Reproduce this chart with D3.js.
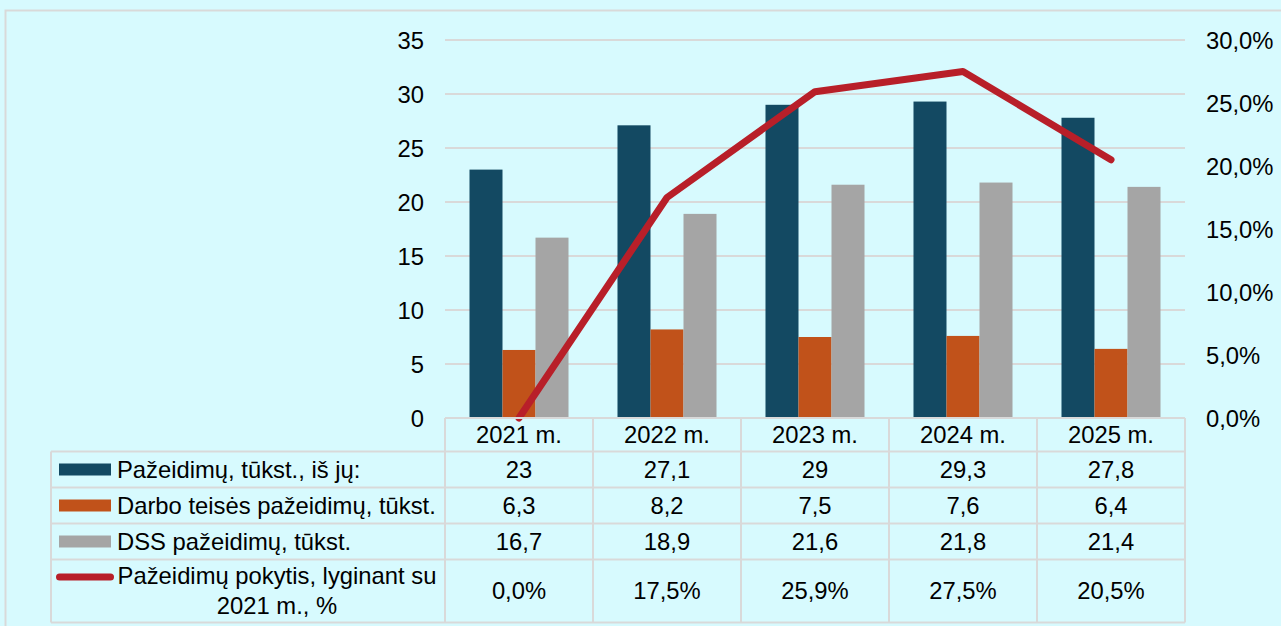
<!DOCTYPE html>
<html lang="lt">
<head>
<meta charset="UTF-8">
<title>Pažeidimai</title>
<script src="https://d3js.org/d3.v7.min.js"></script>
<style>
  body { margin: 0; background: #d7fafe; }
  svg text { font-family: "Liberation Sans", Arial, sans-serif; fill: #000; }
</style>
</head>
<body>
<svg width="1281" height="626"></svg>
<script>
// data
var years = ["2021 m.", "2022 m.", "2023 m.", "2024 m.", "2025 m."];
var violations = [23, 27.1, 29, 29.3, 27.8];
var labourLaw = [6.3, 8.2, 7.5, 7.6, 6.4];
var dss = [16.7, 18.9, 21.6, 21.8, 21.4];
var change = [0, 0.175, 0.259, 0.275, 0.205];
var leftTicks = [0, 5, 10, 15, 20, 25, 30, 35];
var rightTicks = [0, 0.05, 0.10, 0.15, 0.20, 0.25, 0.30];
var seriesNames = ["Pažeidimų, tūkst., iš jų:", "Darbo teisės pažeidimų, tūkst.", "DSS pažeidimų, tūkst."];
var lineName = ["Pažeidimų pokytis, lyginant su", "2021 m., %"];

var colors = ["#134962", "#c1521a", "#a5a5a5"];
var lineColor = "#b81f29";
var gridColor = "#d9d9d9";
var fontSize = 23.8;

var lt = d3.formatLocale({decimal: ",", thousands: " ", grouping: [3], currency: ["", " €"]});
var fmtNum = lt.format("~g");
var fmtPct = lt.format(".1%");

var svg = d3.select("svg");
svg.append("rect").attr("width", 1281).attr("height", 626).attr("fill", "#d7fafe");
// outer frame
svg.append("rect").attr("x", 5.5).attr("y", 10.5).attr("width", 1300).attr("height", 700)
  .attr("fill", "none").attr("stroke", gridColor).attr("stroke-width", 2);

var plotL = 445, plotR = 1185, plotT = 40, plotB = 418;

var x = d3.scaleBand().domain(years).range([plotL, plotR]);
var xs = d3.scaleBand().domain([0, 1, 2]).range([0, x.bandwidth()]).paddingOuter(0.742);
var y = d3.scaleLinear().domain([0, 35]).range([plotB, plotT]);
var y2 = d3.scaleLinear().domain([0, 0.30]).range([plotB, plotT]);

// gridlines
svg.append("g").selectAll("line").data(leftTicks.filter(function(d) { return d > 0; })).join("line")
  .attr("x1", plotL).attr("x2", plotR)
  .attr("y1", function(d) { return y(d); }).attr("y2", function(d) { return y(d); })
  .attr("stroke", gridColor).attr("stroke-width", 2);

// axes
var ax = svg.append("g").attr("transform", "translate(" + 424 + ",0)")
  .call(d3.axisLeft(y).tickValues(leftTicks).tickSize(0).tickPadding(0));
var ax2 = svg.append("g").attr("transform", "translate(" + 1206 + ",0)")
  .call(d3.axisRight(y2).tickValues(rightTicks).tickFormat(fmtPct).tickSize(0).tickPadding(0));
[ax, ax2].forEach(function(a) {
  a.select(".domain").remove();
  a.attr("font-family", null).attr("font-size", null);
  a.selectAll("text").attr("font-size", fontSize).attr("dy", "0.35em");
});

// bars
var series = [violations, labourLaw, dss];
series.forEach(function(vals, si) {
  svg.append("g").selectAll("rect").data(vals).join("rect")
    .attr("x", function(d, i) { return x(years[i]) + xs(si); })
    .attr("width", xs.bandwidth())
    .attr("y", function(d) { return y(d); })
    .attr("height", function(d) { return plotB - y(d); })
    .attr("fill", colors[si]);
});

// line
var line = d3.line()
  .x(function(d, i) { return x(years[i]) + x.bandwidth() / 2; })
  .y(function(d) { return y2(d); });
svg.append("path").datum(change).attr("d", line)
  .attr("fill", "none").attr("stroke", lineColor).attr("stroke-width", 7)
  .attr("stroke-linecap", "round").attr("stroke-linejoin", "round");

// data table
var rowTops = [418, 451.5, 487.5, 523.5, 559.5, 622.5];
var tableLeft = 51;
var tg = svg.append("g").attr("stroke", gridColor).attr("stroke-width", 2);
rowTops.forEach(function(r, i) {
  tg.append("line").attr("x1", i === 0 ? plotL : tableLeft).attr("x2", plotR)
    .attr("y1", r).attr("y2", r);
});
tg.append("line").attr("x1", tableLeft).attr("x2", tableLeft).attr("y1", rowTops[1]).attr("y2", rowTops[5]);
x.domain().concat([null]).forEach(function(yr) {
  var xx = yr === null ? plotR : x(yr);
  tg.append("line").attr("x1", xx).attr("x2", xx).attr("y1", rowTops[0]).attr("y2", rowTops[5]);
});

function rowMid(i) { return (rowTops[i] + rowTops[i + 1]) / 2; }

// header
svg.append("g").selectAll("text").data(years).join("text")
  .attr("x", function(d) { return x(d) + x.bandwidth() / 2; })
  .attr("y", rowMid(0)).attr("dy", "0.35em")
  .attr("text-anchor", "middle").attr("font-size", fontSize)
  .text(function(d) { return d; });

// value rows
series.concat([change]).forEach(function(vals, ri) {
  svg.append("g").selectAll("text").data(vals).join("text")
    .attr("x", function(d, i) { return x(years[i]) + x.bandwidth() / 2; })
    .attr("y", rowMid(ri + 1)).attr("dy", "0.35em")
    .attr("text-anchor", "middle").attr("font-size", fontSize)
    .text(function(d) { return ri === 3 ? fmtPct(d) : fmtNum(d); });
});

// legend cells
seriesNames.forEach(function(name, i) {
  var cy = rowMid(i + 1);
  svg.append("rect").attr("x", 59).attr("y", cy - 6).attr("width", 52).attr("height", 12)
    .attr("fill", colors[i]);
  svg.append("text").attr("x", 117).attr("y", cy).attr("dy", "0.35em")
    .attr("font-size", fontSize).text(name);
});
var ly = rowMid(4);
svg.append("line").attr("x1", 59.5).attr("x2", 110.5).attr("y1", ly - 14).attr("y2", ly - 14)
  .attr("stroke", lineColor).attr("stroke-width", 7).attr("stroke-linecap", "round");
svg.append("text").attr("text-anchor", "middle").attr("font-size", fontSize)
  .selectAll("tspan").data(lineName).join("tspan")
  .attr("x", 277).attr("y", function(d, i) { return ly - 15 + i * 30; }).attr("dy", "0.35em")
  .text(function(d) { return d; });
</script>
</body>
</html>
